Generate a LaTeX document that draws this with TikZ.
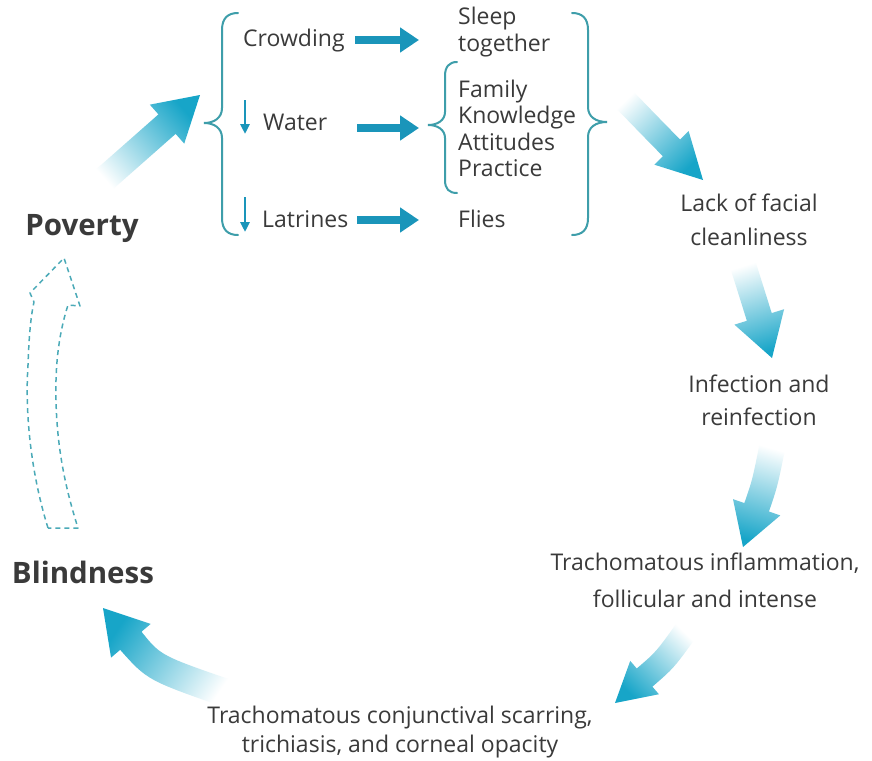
\documentclass[tikz,border=0pt]{standalone}
\usepackage{fontspec}
\setmainfont{Open Sans}
\usetikzlibrary{calc,arrows.meta}
\definecolor{txt}{HTML}{3A3A3A}
\definecolor{bigarr}{HTML}{17A5C8}
\definecolor{smallarr}{HTML}{1A95BA}
\definecolor{bracecol}{HTML}{3E9EAA}
\definecolor{dashcol}{HTML}{4BAAB8}
% #1 tail, #2 control (on head axis), #3 tip, #4 shaft half width, #5 head half width, #6 head length
\newcommand\fatarrow[6]{%
 \coordinate (faT) at (#1);
 \coordinate (faC) at (#2);
 \coordinate (faH) at (#3);
 \coordinate (faB) at ($(faH)!#6!(faC)$);
 \coordinate (faTp) at ($(faT)!#4!90:(faC)$);
 \coordinate (faTm) at ($(faT)!#4!-90:(faC)$);
 \coordinate (faBp) at ($(faB)!#4!-90:(faC)$);
 \coordinate (faBm) at ($(faB)!#4!90:(faC)$);
 \coordinate (faWp) at ($(faB)!#5!-90:(faC)$);
 \coordinate (faWm) at ($(faB)!#5!90:(faC)$);
 \coordinate (faCp) at ($(faC)+($(faT)!#4!90:(faB)$)-(faT)$);
 \coordinate (faCm) at ($(faC)+($(faT)!#4!-90:(faB)$)-(faT)$);
 \path let \p1=($(faH)-(faT)$) in \pgfextra{\pgfmathsetmacro\faang{atan2(-\x1,\y1)}\global\let\faangle\faang};
 \shade[top color=bigarr, bottom color=white, shading angle=\faangle]
   (faTp) .. controls (faCp) .. (faBp) -- (faWp) -- (faH) -- (faWm) -- (faBm) .. controls (faCm) .. (faTm) -- cycle;
}
\tikzset{
  txtnode/.style={text=txt, font=\fontsize{23}{25}\selectfont, inner sep=0pt},
  bignode/.style={text=txt, font=\fontsize{29.5}{32}\selectfont\bfseries, inner sep=0pt},
  smallarrow/.style={draw=smallarr, line width=8pt, -{Triangle[length=19pt,width=24pt]}},
  downarrow/.style={draw=smallarr, line width=2.6pt, -{Triangle[length=10pt,width=9pt]}},
  bracestyle/.style={draw=bracecol, line width=2pt, line cap=round},
  dashedarrow/.style={draw=dashcol, line width=1.5pt, dash pattern=on 5pt off 4pt, line join=round}
}
\begin{document}
\begin{tikzpicture}[x=1pt,y=-1pt]
\useasboundingbox[fill=white] (0,0) rectangle (872,760);

% big gradient arrows
\fatarrow{98,185}{140,148}{200,95}{13pt}{26pt}{44pt}
\fatarrow{620,95}{650,126}{703,180}{12pt}{24pt}{45pt}
\fatarrow{742,262}{754,300}{772,358}{13pt}{26pt}{43pt}
\fatarrow{773,443}{765,483}{743,547}{13pt}{25pt}{42pt}
\fatarrow{688,628}{665,660}{615,703}{12pt}{22pt}{39pt}
\fatarrow{232,695}{154,668}{103,608}{14pt}{26pt}{43pt}

% dashed hollow arrow
\draw[dashedarrow] (48,528) .. controls (30,470) and (25,410) .. (28,365)
   .. controls (29,335) and (31,315) .. (34,302) -- (30,293) -- (64,258) -- (80,306) -- (68,305)
   .. controls (60,330) and (55,360) .. (56,400) .. controls (57,450) and (66,490) .. (78,528) -- cycle;

% braces
\draw[bracestyle] (238,13) .. controls (228,13) and (222,18) .. (222,30) -- (222,108)
   .. controls (222,118) and (214,123) .. (204,123) .. controls (214,123) and (222,128) .. (222,138)
   -- (222,218) .. controls (222,230) and (228,235) .. (238,235);
\draw[bracestyle] (457,62) .. controls (449,62) and (445,67) .. (445,76) -- (445,112)
   .. controls (445,120) and (438,125) .. (428,125) .. controls (438,125) and (445,130) .. (445,138)
   -- (445,180) .. controls (445,189) and (449,193) .. (457,193);
\draw[bracestyle] (572,13) .. controls (582,13) and (588,18) .. (588,30) -- (588,107)
   .. controls (588,117) and (596,122) .. (607,122) .. controls (596,122) and (588,127) .. (588,137)
   -- (588,218) .. controls (588,230) and (582,235) .. (572,235);

% main labels
\node[bignode, anchor=base] (poverty) at (82,235) {Poverty};
\node[bignode, anchor=base] (blindness) at (83,583) {Blindness};

% cluster
\node[txtnode, anchor=base west] (crowding) at (243,47) {Crowding};
\node[txtnode, anchor=base west] (sleep1) at (458,25) {Sleep};
\node[txtnode, anchor=base west] (sleep2) at (458,52) {together};
\node[txtnode, anchor=base west] (water) at (263,130) {Water};
\node[txtnode, anchor=base west] (family) at (458,97) {Family};
\node[txtnode, anchor=base west] (knowledge) at (458,123.5) {Knowledge};
\node[txtnode, anchor=base west] (attitudes) at (458,150) {Attitudes};
\node[txtnode, anchor=base west] (practice) at (458,176.5) {Practice};
\node[txtnode, anchor=base west] (latrines) at (262,227) {Latrines};
\node[txtnode, anchor=base west] (flies) at (458,227) {Flies};

\coordinate (ca) at (355,40); \coordinate (cb) at (419,40);
\coordinate (wa) at (357,128); \coordinate (wb) at (419,128);
\coordinate (la) at (357,220); \coordinate (lb) at (419,220);
\draw[smallarrow] (ca) -- (cb);
\draw[smallarrow] (wa) -- (wb);
\draw[smallarrow] (la) -- (lb);
\coordinate (wd1) at (245,100); \coordinate (wd2) at (245,134);
\coordinate (ld1) at (245,197); \coordinate (ld2) at (245,232);
\draw[downarrow] (wd1) -- (wd2);
\draw[downarrow] (ld1) -- (ld2);

% cycle labels
\node[txtnode, anchor=base] (lack1) at (749,211) {Lack of facial};
\node[txtnode, anchor=base] (lack2) at (749,245) {cleanliness};
\node[txtnode, anchor=base] (inf1) at (759,392) {Infection and};
\node[txtnode, anchor=base] (inf2) at (759,425) {reinfection};
\node[txtnode, anchor=base] (ti1) at (705,570) {Trachomatous inflammation,};
\node[txtnode, anchor=base] (ti2) at (705,607) {follicular and intense};
\node[txtnode, anchor=base] (tc1) at (400,723) {Trachomatous conjunctival scarring,};
\node[txtnode, anchor=base] (tc2) at (400,752) {trichiasis, and corneal opacity};
\end{tikzpicture}
\end{document}
